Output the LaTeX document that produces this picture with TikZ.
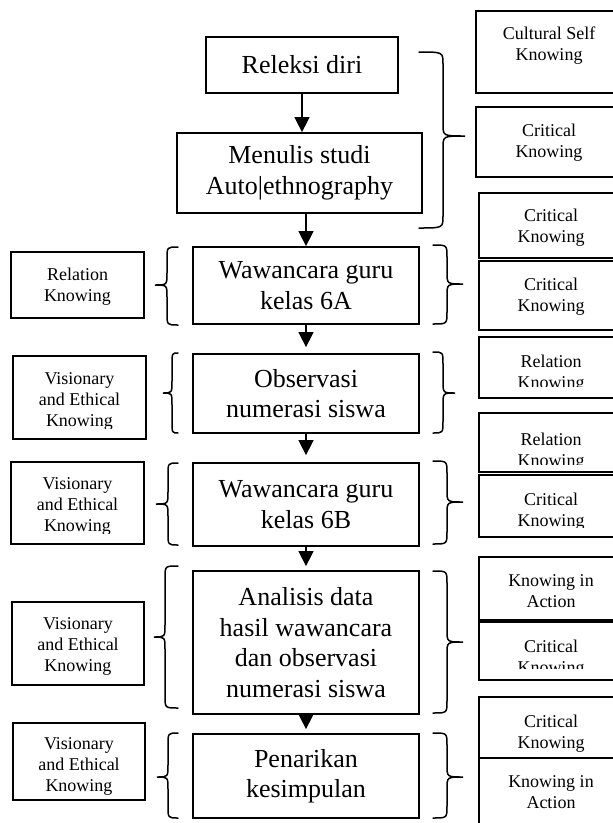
\documentclass[tikz,border=0pt]{standalone}
\usepackage{fontspec}
\setmainfont{Liberation Serif}
\usetikzlibrary{arrows.meta}
\tikzset{
  cbox/.style={draw, line width=1.8pt, inner sep=0pt, align=center, font=\fontsize{26}{30.5}\selectfont},
  sbox/.style={draw, line width=1.6pt, inner sep=0pt},
  stext/.style={inner sep=0pt, align=center, anchor=north, font=\fontsize{18}{21}\selectfont},
  flow/.style={line width=1.5pt, -{Triangle[length=15pt,width=15pt]}},
  bracestyle/.style={line width=1.5pt, line cap=round},
}
% name, xl, yt, xr, yb, first baseline, clip y, text
\newcommand\knowbox[8]{%
  \node[sbox, minimum width={(#4-#2)*1pt}, minimum height={(#5-#3)*1pt}] (#1) at ({(#2+#4)/2},{(#3+#5)/2}) {};
  \begin{scope}
    \clip (#2,#3) rectangle (#4,#7);
    \node[stext] (#1t) at ({(#2+#4)/2},{#6-12.3}) {#8};
  \end{scope}}
% x0 (open end), xm (vertical), x1 (tip), yt, ym, yb
\newcommand\mybrace[6]{%
  \draw[bracestyle] (#1,#4) .. controls (#2,#4) .. (#2,{#4+12}) -- (#2,{#5-12})
    .. controls (#2,#5) .. (#3,#5) .. controls (#2,#5) .. (#2,{#5+12})
    -- (#2,{#6-12}) .. controls (#2,#6) .. (#1,#6);}
\begin{document}
\begin{tikzpicture}[x=1pt, y=-1pt]
\useasboundingbox (0,0) rectangle (613,823);
\clip (0,0) rectangle (613,823);
\fill[white] (0,0) rectangle (613,823);

% central flow
\node[cbox, minimum width=192pt, minimum height=56pt] (b1) at (302,65) {Releksi diri};
\node[cbox, minimum width=245pt, minimum height=80pt] (b2) at (299.5,173) {Menulis studi\\Auto|ethnography};
\node[cbox, minimum width=226pt, minimum height=77pt] (b3) at (306,285.5) {Wawancara guru\\kelas 6A};
\node[cbox, minimum width=226pt, minimum height=79pt] (b4) at (306,393.5) {Observasi\\numerasi siswa};
\node[cbox, minimum width=226pt, minimum height=83pt] (b5) at (306,504.5) {Wawancara guru\\kelas 6B};
\node[cbox, minimum width=226pt, minimum height=143pt] (b6) at (306,642.5) {Analisis data\\hasil wawancara\\dan observasi\\numerasi siswa};
\node[cbox, minimum width=226pt, minimum height=84pt] (b7) at (306,776) {Penarikan\\kesimpulan};

\draw[flow] (b1.south) -- (b1.south |- b2.north);
\draw[flow] (b3.north |- b2.south) -- (b3.north);
\draw[flow, shorten >=6pt] (b3.south) -- (b4.north);
\draw[flow, shorten >=7pt] (b4.south) -- (b5.north);
\draw[flow, shorten >=4pt] (b5.south) -- (b6.north);
\draw[flow, shorten >=4pt] (b6.south) -- (b7.north);

% right braces
\mybrace{419}{443}{465}{52}{136}{228}
\mybrace{433}{447}{463}{245}{284}{324}
\mybrace{433}{443}{455}{352}{393}{433}
\mybrace{433}{447}{463}{461}{502}{544}
\mybrace{433}{447}{463}{571}{642}{713}
\mybrace{433}{447}{463}{733}{777}{818}
% left braces
\mybrace{178}{167}{155}{247}{285}{325}
\mybrace{178}{172}{163}{353}{393}{433}
\mybrace{178}{168}{156}{463}{504}{545}
\mybrace{178}{165}{154}{566}{637}{708}
\mybrace{178}{168}{157}{733}{777}{818}

% left boxes
\knowbox{l3}{11}{252}{144}{318}{280}{318}{Relation\\Knowing}
\knowbox{l4}{13}{356}{146}{439}{385}{428}{Visionary\\and Ethical\\Knowing}
\knowbox{l5}{11}{462}{144}{544}{490}{533}{Visionary\\and Ethical\\Knowing}
\knowbox{l6}{12}{602}{144}{685}{630}{685}{Visionary\\and Ethical\\Knowing}
\knowbox{l7}{13}{723}{145}{800}{750}{800}{Visionary\\and Ethical\\Knowing}

% right boxes
\knowbox{r1}{476}{11}{622}{93}{39}{93}{Cultural Self\\Knowing}
\knowbox{r2}{476}{107}{622}{177}{136}{177}{Critical\\Knowing}
\knowbox{r3}{479}{193}{623}{258}{221}{258}{Critical\\Knowing}
\knowbox{r4}{479}{261}{623}{330}{290}{330}{Critical\\Knowing}
\knowbox{r5}{479}{337}{623}{398}{367}{386}{Relation\\Knowing}
\knowbox{r6}{479}{413}{623}{472}{445}{464}{Relation\\Knowing}
\knowbox{r7}{479}{475}{623}{537}{505}{527}{Critical\\Knowing}
\knowbox{r8}{479}{557}{623}{620}{587}{620}{Knowing in\\Action}
\knowbox{r9}{479}{622}{623}{680}{652}{668}{Critical\\Knowing}
\knowbox{r10}{479}{697}{623}{758}{727}{758}{Critical\\Knowing}
\knowbox{r11}{479}{758}{623}{840}{788}{840}{Knowing in\\Action}
\end{tikzpicture}
\end{document}
